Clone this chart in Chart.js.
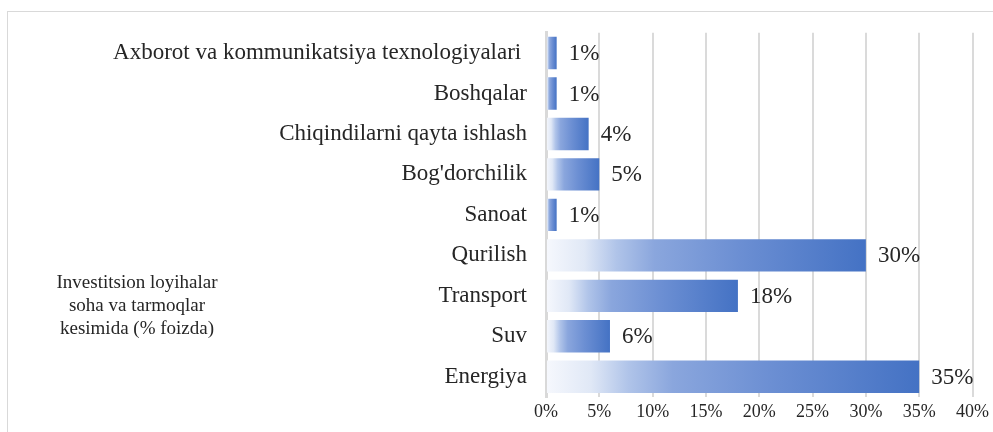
<!DOCTYPE html>
<html>
<head>
<meta charset="utf-8">
<script src="https://cdn.jsdelivr.net/npm/chart.js@4"></script>
<style>
    html, body { margin: 0; padding: 0; background: #ffffff; overflow: hidden; }
    #frame {
        position: absolute; left: 7px; top: 11px; width: 1000px; height: 440px;
        border-left: 1px solid #d9d9d9; border-top: 1px solid #d9d9d9;
    }
    #wrap { position: absolute; left: 0; top: 0; width: 993px; height: 432px; }
</style>
</head>
<body>
<div id="frame"></div>
<div id="wrap"><canvas id="main-chart"></canvas></div>
<script>
// categories, top to bottom
const categories = [
    "Axborot va kommunikatsiya texnologiyalari ",
    "Boshqalar",
    "Chiqindilarni qayta ishlash",
    "Bog'dorchilik",
    "Sanoat",
    "Qurilish",
    "Transport",
    "Suv",
    "Energiya",
];
// share of investment projects, %
const shares = [1, 1, 4, 5, 1, 30, 18, 6, 35];
const sideTitle = ["Investitsion loyihalar", "soha va tarmoqlar", "kesimida (% foizda)"];

const serif = "'Liberation Serif', 'Times New Roman', serif";
const textColor = "#262626";

function barGradient(context) {
    const chart = context.chart;
    if (!chart.chartArea || context.raw === undefined) {
        return "#4472c4";
    }
    const x0 = chart.scales.x.getPixelForValue(0);
    const x1 = chart.scales.x.getPixelForValue(context.raw);
    const g = chart.ctx.createLinearGradient(x0, 0, x1, 0);
    g.addColorStop(0, "#f6f8fd");
    g.addColorStop(0.12, "#e0e8f6");
    g.addColorStop(0.22, "#b0c4e9");
    g.addColorStop(0.34, "#8aa6dd");
    g.addColorStop(0.6, "#6c8fd3");
    g.addColorStop(1, "#4472c4");
    return g;
}

// value labels to the right of each bar
const valueLabels = {
    id: "valueLabels",
    afterDatasetsDraw(chart) {
        const ctx = chart.ctx;
        const meta = chart.getDatasetMeta(0);
        ctx.save();
        ctx.font = "23px " + serif;
        ctx.fillStyle = textColor;
        ctx.textAlign = "left";
        ctx.textBaseline = "middle";
        meta.data.forEach((bar, i) => {
            ctx.fillText(shares[i] + "%", bar.x + 12, bar.y + 1);
        });
        ctx.restore();
    },
};

// series name on the left, like the Excel legend
const sideLegend = {
    id: "sideLegend",
    afterDraw(chart) {
        const ctx = chart.ctx;
        ctx.save();
        ctx.font = "19px " + serif;
        ctx.fillStyle = textColor;
        ctx.textAlign = "center";
        ctx.textBaseline = "middle";
        sideTitle.forEach((line, i) => {
            ctx.fillText(line, 137, 283 + i * 23);
        });
        ctx.restore();
    },
};

new Chart(document.getElementById("main-chart"), {
    type: "bar",
    data: {
        labels: categories,
        datasets: [
            {
                label: sideTitle.join(" "),
                data: shares,
                backgroundColor: barGradient,
                borderWidth: 0,
                barPercentage: 0.8,
                categoryPercentage: 1.0,
            },
        ],
    },
    options: {
        indexAxis: "y",
        responsive: true,
        maintainAspectRatio: false,
        animation: false,
        layout: {
            padding: { top: 30, right: 18, bottom: 0, left: 0 },
        },
        scales: {
            x: {
                min: 0,
                max: 40,
                z: 1,
                ticks: {
                    stepSize: 5,
                    padding: 4,
                    color: textColor,
                    font: { family: serif, size: 18 },
                    callback: (v) => v + "%",
                },
                grid: {
                    color: "rgba(150,150,150,0.35)",
                    lineWidth: 2,
                    drawTicks: false,
                },
                border: { display: false },
                afterFit: (scale) => {
                    scale.height = 35;
                },
            },
            y: {
                ticks: {
                    padding: 19,
                    color: textColor,
                    font: { family: serif, size: 23 },
                },
                grid: { display: false, drawTicks: false },
                border: { display: true, color: "#d9d9d9", width: 3 },
                afterFit: (scale) => {
                    scale.width = 546;
                },
            },
        },
        plugins: {
            legend: { display: false },
            tooltip: { enabled: false },
        },
    },
    plugins: [valueLabels, sideLegend],
});
</script>
</body>
</html>
